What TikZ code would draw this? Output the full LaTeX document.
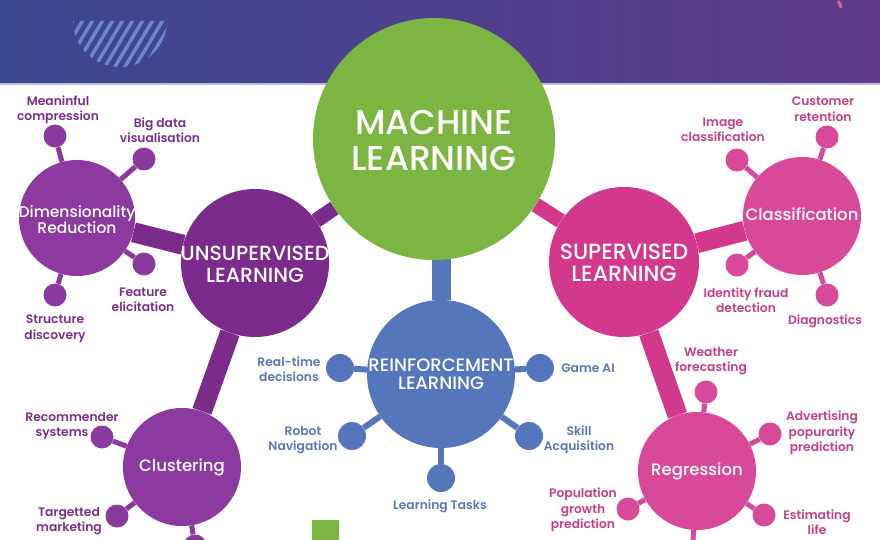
\documentclass[tikz,border=0pt]{standalone}
\usepackage{fontspec}
\setmainfont{Poppins}
\newfontfamily\hubfont{Poppins Medium}
\newfontfamily\lblfont{Poppins SemiBold}
\usetikzlibrary{backgrounds}
\definecolor{mlGreen}{HTML}{7DB543}
\definecolor{unsupPurple}{HTML}{7B2B8B}
\definecolor{dimPurple}{HTML}{8C3A9F}
\definecolor{satPurple}{HTML}{8A3A9C}
\definecolor{lblPurple}{HTML}{7D2E8D}
\definecolor{supPink}{HTML}{D2388B}
\definecolor{clsPink}{HTML}{D9499A}
\definecolor{lblPink}{HTML}{C63F8A}
\definecolor{rlBlue}{HTML}{5576BB}
\definecolor{lblBlue}{HTML}{5A78B6}
\definecolor{bannerL}{HTML}{3B4790}
\definecolor{bannerR}{HTML}{5F3A8B}
\definecolor{bannerLine}{HTML}{B9BDE0}
\definecolor{hatchBlue}{HTML}{6B86CF}
\pgfdeclarelayer{bg}
\pgfsetlayers{bg,background,main}
\tikzset{
  hub/.style={circle, inner sep=0pt},
  hubtxt/.style={align=center, text=white, inner sep=0pt},
  sat/.style={circle, inner sep=0pt, minimum size=23pt},
  rsat/.style={circle, inner sep=0pt, minimum size=28pt, fill=rlBlue},
  lbl/.style={align=center, inner sep=0pt, font=\lblfont\fontsize{12.3}{15.5}\selectfont},
  bar/.style={line width=20pt},
  twig/.style={line width=5pt},
  hatch/.style={draw=hatchBlue, line width=3.5pt},
}
\newcommand{\mlsize}{\hubfont\fontsize{34.5}{36}\selectfont}
\newcommand{\unsize}{\hubfont\fontsize{20.5}{22}\selectfont}
\newcommand{\supsize}{\hubfont\fontsize{22}{21.5}\selectfont}
\newcommand{\rlsize}{\hubfont\fontsize{18}{18.5}\selectfont}
\newcommand{\dimsize}{\hubfont\fontsize{15.5}{16}\selectfont}
\newcommand{\subsize}{\hubfont\fontsize{16.5}{17}\selectfont}

\begin{document}
\begin{tikzpicture}[x=1pt,y=-1pt]
  \useasboundingbox (0,0) rectangle (880,540);
  % banner
  \begin{pgfonlayer}{bg}
    \fill[white] (0,0) rectangle (880,540);
    \shade[left color=bannerL, right color=bannerR] (0,0) rectangle (880,83);
    \fill[bannerLine] (0,83) rectangle (880,85.5);
    \begin{scope}
      \clip (73,21) -- (167,21) arc[start angle=0, end angle=180, x radius=47, y radius=46] -- cycle;
      \foreach \i in {0,...,13} \draw[hatch] (40+\i*10,75) -- ++(36,-60);
    \end{scope}
    \draw[line width=3pt, line cap=round, supPink!80] (838.5,1.5) -- (841,7);
    \fill[mlGreen] (312,520) rectangle (339,540);
  \end{pgfonlayer}

  % hubs
  \node[hub, fill=mlGreen, minimum size=242pt] (ml) at (434,139) {};
  \node[hub, fill=unsupPurple, minimum size=148pt] (unsup) at (255,263) {};
  \node[hub, fill=supPink, minimum size=150pt] (sup) at (624,262) {};
  \node[hub, fill=rlBlue, minimum size=148pt] (rl) at (441,374) {};
  \node[hub, fill=dimPurple, minimum size=116pt] (dim) at (77,218) {};
  \node[hub, fill=dimPurple, minimum size=118pt] (clu) at (182,467) {};
  \node[hub, fill=clsPink, minimum size=118pt] (cls) at (802,216) {};
  \node[hub, fill=clsPink, minimum size=118pt] (reg) at (697,471) {};

  \node[hubtxt, font=\mlsize] (mlT) at (434,140) {MACHINE\\LEARNING};
  \node[hubtxt, font=\unsize] (unsupT) at (255,264) {UNSUPERVISED\\LEARNING};
  \node[hubtxt, font=\supsize] (supT) at (624,263) {SUPERVISED\\LEARNING};
  \node[hubtxt, font=\rlsize] (rlT) at (441,374) {REINFORCEMENT\\LEARNING};
  \node[hubtxt, font=\dimsize] (dimT) at (77,220) {Dimensionality\\Reduction};
  \node[hubtxt, font=\subsize] (cluT) at (clu) {Clustering};
  \node[hubtxt, font=\subsize] (clsT) at (802,214) {Classification};
  \node[hubtxt, font=\subsize] (regT) at (reg) {Regression};

  \begin{pgfonlayer}{background}
    \draw[bar, unsupPurple, line width=15pt] (ml) -- (unsup);
    \draw[bar, supPink, line width=15pt] (ml) -- (sup);
    \draw[bar, rlBlue, line width=19pt] (rl |- ml) -- (rl);
    \draw[bar, unsupPurple] (unsup) -- (dim);
    \draw[bar, unsupPurple] (unsup) -- (clu);
    \draw[bar, supPink] (sup) -- (cls);
    \draw[bar, supPink] (sup) -- (reg);
  \end{pgfonlayer}

  % purple satellites
  \foreach \n/\h/\p/\t/\q in {
      dm1/dim/{55,136}/{Meaninful\\compression}/{58,110},
      dm2/dim/{144,159}/{Big data\\visualisation}/{160,130},
      dm3/dim/{144,264}/{Feature\\elicitation}/{143,300},
      dm4/dim/{55,295}/{Structure\\discovery}/{55,329},
      cl1/clu/{102,437}/{Recommender\\systems\hspace*{20pt}}/{72,426},
      cl2/clu/{117,516}/{Targetted\\marketing}/{69,521},
      cl3/clu/{195,546}/{}/{195,560}}{
    \node[sat, fill=satPurple] (\n) at (\p) {};
    \node[lbl, text=lblPurple] (\n-l) at (\q) {\t};
    \begin{pgfonlayer}{background}
      \draw[twig, satPurple] (\n) -- (\h);
    \end{pgfonlayer}
  }

  % pink satellites
  \foreach \n/\h/\p/\t/\q in {
      cs1/cls/{737,160}/{Image\\classification}/{723,130},
      cs2/cls/{827,137}/{Customer\\retention}/{823,109},
      cs3/cls/{737,265}/{Identity fraud\\detection}/{746,300},
      cs4/cls/{827,295}/{Diagnostics}/{825,321},
      rg1/reg/{706,392}/{Weather\\forecasting}/{711,361},
      rg2/reg/{770,434}/{Advertising\\popurarity\\prediction}/{822,433},
      rg3/reg/{628,509}/{Population\\growth\\prediction}/{583,510},
      rg4/reg/{764,515}/{Estimating\\life}/{817,522},
      rg5/reg/{692,558}/{}/{692,570}}{
    \node[sat, fill=clsPink] (\n) at (\p) {};
    \node[lbl, text=lblPink] (\n-l) at (\q) {\t};
    \begin{pgfonlayer}{background}
      \draw[twig, clsPink] (\n) -- (\h);
    \end{pgfonlayer}
  }

  % blue satellites
  \foreach \n/\p/\t/\q in {
      rl1/{340,368}/{Real-time\\decisions}/{289,369},
      rl2/{540,368}/{Game AI}/{588,368},
      rl3/{352,436}/{Robot\\Navigation}/{303,440},
      rl4/{529,436}/{Skill\\Acquisition}/{579,440},
      rl5/{441,478}/{Learning Tasks}/{440,506}}{
    \node[rsat] (\n) at (\p) {};
    \node[lbl, text=lblBlue] (\n-l) at (\q) {\t};
    \begin{pgfonlayer}{background}
      \draw[twig, rlBlue, line width=6pt] (\n) -- (rl);
    \end{pgfonlayer}
  }
\end{tikzpicture}
\end{document}
